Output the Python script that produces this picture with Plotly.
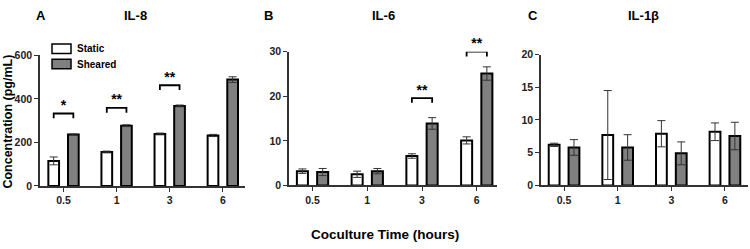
import plotly.graph_objects as go

W, H = 750, 249

times = ["0.5", "1", "3", "6"]
series_names = ["Static", "Sheared"]

il8_static = [115, 156, 239, 232]
il8_static_err = [18, 4, 4, 5]
il8_sheared = [236, 277, 368, 489]
il8_sheared_err = [3, 4, 4, 13]
il8_sig = ["*", "**", "**", "**"]
il8_sig_level = [333, 359, 463, 635]

il6_static = [3.2, 2.5, 6.6, 10.1]
il6_static_err = [0.5, 0.7, 0.5, 0.8]
il6_sheared = [3.0, 3.2, 13.9, 25.1]
il6_sheared_err = [0.8, 0.6, 1.3, 1.5]
il6_sig = ["", "", "**", "**"]
il6_sig_level = [None, None, 19.6, 30.0]

il1b_static = [6.2, 7.7, 7.9, 8.2]
il1b_static_err = [0.25, 6.8, 2.0, 1.35]
il1b_sheared = [5.8, 5.8, 4.9, 7.55]
il1b_sheared_err = [1.2, 1.95, 1.75, 2.1]

panel_letters = ["A", "B", "C"]
panel_titles = ["IL-8", "IL-6", "IL-1β"]
y_ticks = [[0, 200, 400, 600], [0, 10, 20, 30], [0, 5, 10, 15, 20]]
y_title = "Concentration (pg/mL)"
x_title = "Coculture Time (hours)"

FONT = "Liberation Sans, Arial, sans-serif"
AXC = "#333333"
GRAY = "#808080"

# pixel layout of the three panels
panels = [
    dict(x0=40, x1=245, yb=189, yt=52, yr=[0, 600], xr=[-0.443, 3.418]),
    dict(x0=289, x1=497, yb=188.5, yt=48, yr=[0, 30], xr=[-0.43, 3.37]),
    dict(x0=541, x1=748, yb=188.5, yt=51, yr=[0, 20], xr=[-0.43, 3.43]),
]

data = [
    (il8_static, il8_static_err, il8_sheared, il8_sheared_err),
    (il6_static, il6_static_err, il6_sheared, il6_sheared_err),
    (il1b_static, il1b_static_err, il1b_sheared, il1b_sheared_err),
]
sigs = [(il8_sig, il8_sig_level), (il6_sig, il6_sig_level), ([], [])]

BARGAP = 0.26
OFF = (1 - BARGAP) / 4

fig = go.Figure()
xpos = list(range(len(times)))

for k, (p, d) in enumerate(zip(panels, data)):
    xa = "x" if k == 0 else f"x{k+1}"
    ya = "y" if k == 0 else f"y{k+1}"
    s, se, sh, she = d
    fig.add_trace(go.Bar(
        x=xpos, y=s, name=series_names[0], xaxis=xa, yaxis=ya,
        marker=dict(color="white", line=dict(color="black", width=2)),
        error_y=dict(type="data", array=se, visible=True, color=AXC, thickness=1, width=4),
        showlegend=False, hoverinfo="skip"))
    fig.add_trace(go.Bar(
        x=xpos, y=sh, name=series_names[1], xaxis=xa, yaxis=ya,
        marker=dict(color=GRAY, line=dict(color="black", width=2)),
        error_y=dict(type="data", array=she, visible=True, color=AXC, thickness=1, width=4),
        showlegend=False, hoverinfo="skip"))

    # significance brackets
    labels, levels = sigs[k]
    pxu = (p["yb"] - p["yt"]) / (p["yr"][1] - p["yr"][0])
    leg = 5 / pxu
    for i, (lab, lv) in enumerate(zip(labels, levels)):
        if not lab:
            continue
        fig.add_trace(go.Scatter(
            x=[i - OFF, i - OFF, i + OFF, i + OFF], y=[lv - leg, lv, lv, lv - leg],
            mode="lines", line=dict(color="black", width=1.8),
            xaxis=xa, yaxis=ya, cliponaxis=False, showlegend=False, hoverinfo="skip"))
        fig.add_trace(go.Scatter(
            x=[i], y=[lv], mode="text", text=[lab], textposition="top center",
            textfont=dict(family=FONT, size=14, color="black", weight="bold"),
            xaxis=xa, yaxis=ya, cliponaxis=False, showlegend=False, hoverinfo="skip"))

    axis_common = dict(showline=True, linecolor=AXC, linewidth=1.6, ticks="outside",
                       ticklen=4, tickwidth=1.4, tickcolor=AXC, showgrid=False, zeroline=False,
                       tickfont=dict(family=FONT, size=10.5, color="#222", weight="bold"))
    xd = [p["x0"] / W, p["x1"] / W]
    yd = [1 - p["yb"] / H, 1 - p["yt"] / H]
    fig.update_layout(**{
        ("xaxis" if k == 0 else f"xaxis{k+1}"): dict(
            domain=xd, range=p["xr"], anchor=ya, tickvals=xpos, ticktext=times, **axis_common),
        ("yaxis" if k == 0 else f"yaxis{k+1}"): dict(
            domain=yd, range=p["yr"], anchor=xa, tickvals=y_ticks[k], **axis_common),
    })

annotations = []
letter_x = [41, 268.5, 533]
title_x = [135, 383.5, 643]
for k in range(3):
    annotations.append(dict(text=panel_letters[k], x=letter_x[k] / W, y=1 - 10 / H, xref="paper", yref="paper",
                            showarrow=False, xanchor="center", yanchor="middle",
                            font=dict(family=FONT, size=13, color="black", weight="bold")))
    annotations.append(dict(text=panel_titles[k], x=title_x[k] / W, y=1 - 10 / H, xref="paper", yref="paper",
                            showarrow=False, xanchor="center", yanchor="middle",
                            font=dict(family=FONT, size=13, color="black", weight="bold")))

annotations.append(dict(text=y_title, x=8.5 / W, y=1 - 122 / H, xref="paper", yref="paper", textangle=-90,
                        showarrow=False, xanchor="center", yanchor="middle",
                        font=dict(family=FONT, size=12.5, color="black", weight="bold")))
annotations.append(dict(text=x_title, x=385 / W, y=1 - 240 / H, xref="paper", yref="paper",
                        showarrow=False, xanchor="center", yanchor="middle",
                        font=dict(family=FONT, size=13.5, color="black", weight="bold")))

# legend (manual, in panel A)
shapes = []
leg_y = [45, 61]
leg_fill = ["white", GRAY]
for name, yy, fc in zip(series_names, leg_y, leg_fill):
    shapes.append(dict(type="rect", xref="paper", yref="paper",
                       x0=52 / W, x1=71 / W, y0=1 - (yy + 5) / H, y1=1 - (yy - 5) / H,
                       fillcolor=fc, line=dict(color="black", width=1.5)))
    annotations.append(dict(text=name, x=75 / W, y=1 - yy / H, xref="paper", yref="paper",
                            showarrow=False, xanchor="left", yanchor="middle",
                            font=dict(family=FONT, size=10, color="black", weight="bold")))

fig.update_layout(
    width=W, height=H, autosize=False,
    margin=dict(l=0, r=0, t=0, b=0),
    paper_bgcolor="white", plot_bgcolor="white",
    barmode="group", bargap=BARGAP, bargroupgap=0.455,
    showlegend=False,
    annotations=annotations, shapes=shapes,
    font=dict(family=FONT),
)

fig.write_html("out.html", config={"displayModeBar": False},
               post_script="document.body.style.margin='0';document.body.style.padding='0';")
